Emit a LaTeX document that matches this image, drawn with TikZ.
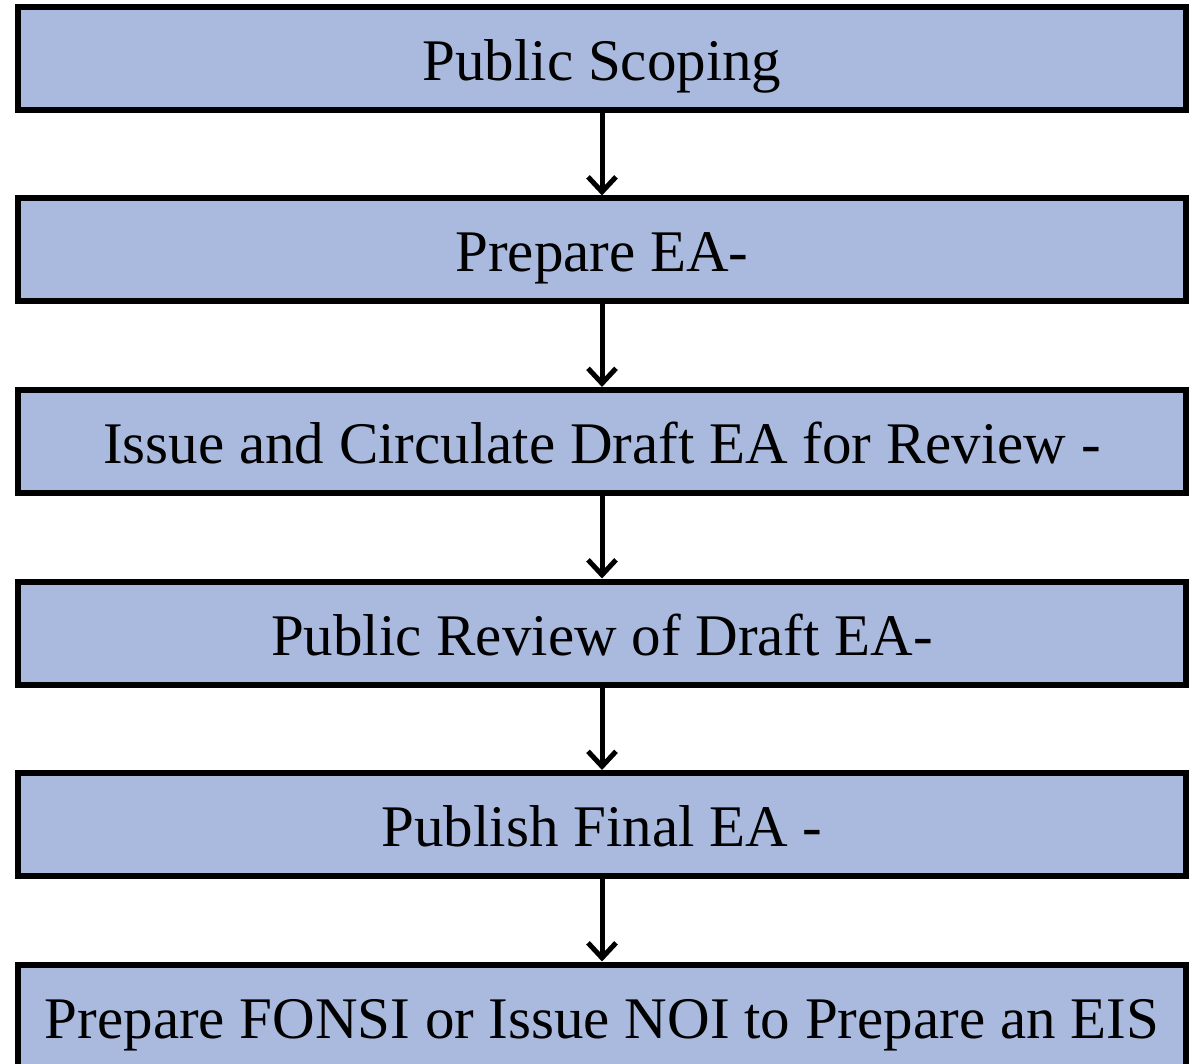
\documentclass[tikz,border=0pt]{standalone}
\usepackage{fontspec}
\setmainfont{Liberation Serif}
\usetikzlibrary{arrows.meta}
\definecolor{boxfill}{RGB}{170,186,222}
\tikzset{
  stepbox/.style={draw=black, fill=boxfill, line width=6pt, minimum width=1168pt, minimum height=103pt, inner sep=0pt,
    font=\fontsize{59}{62}\selectfont, text height=44pt, text depth=0pt},
  flow/.style={line width=5pt, -{Straight Barb[length=15pt, width=28pt, line width=5pt]}}
}
\begin{document}
\begin{tikzpicture}[x=1pt, y=-1pt]
\useasboundingbox (0,0) rectangle (1189,1064);
\node[stepbox] (b1) at (602,58.5) {Public Scoping};
\node[stepbox] (b2) at (602,250) {Prepare EA-};
\node[stepbox] (b3) at (602,441.5) {Issue and Circulate Draft EA for Review -};
\node[stepbox] (b4) at (602,633) {Public Review of Draft EA-};
\node[stepbox] (b5) at (602,824.5) {Publish Final EA -};
\node[stepbox] (b6) at (602,1016) {Prepare FONSI or Issue NOI to Prepare an EIS};
\draw[flow] (b1.south) -- (b2.north);
\draw[flow] (b2.south) -- (b3.north);
\draw[flow] (b3.south) -- (b4.north);
\draw[flow] (b4.south) -- (b5.north);
\draw[flow] (b5.south) -- (b6.north);
\end{tikzpicture}
\end{document}
